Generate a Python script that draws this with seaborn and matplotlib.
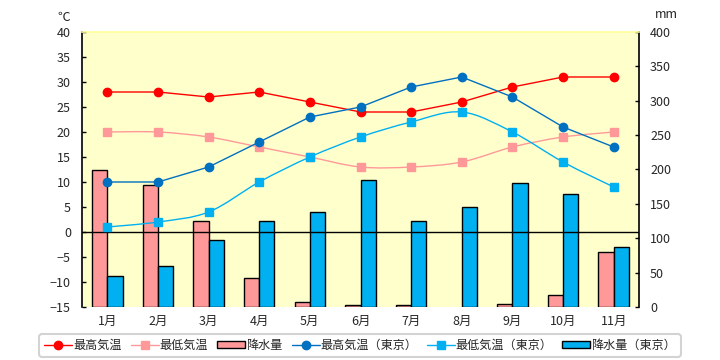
import matplotlib
matplotlib.use("Agg")
import matplotlib.pyplot as plt
import seaborn as sns
import numpy as np
import pandas as pd
from matplotlib.path import Path
from matplotlib.patches import PathPatch, Patch
from matplotlib.lines import Line2D

sns.set_style("white")
plt.rcParams['font.family'] = ['Noto Sans CJK JP', 'DejaVu Sans']

# データ
months = ['1月', '2月', '3月', '4月', '5月', '6月', '7月', '8月', '9月', '10月', '11月']
max_temp = [28, 28, 27, 28, 26, 24, 24, 26, 29, 31, 31]
min_temp = [20, 20, 19, 17, 15, 13, 13, 14, 17, 19, 20]
rain = [199, 178, 125, 42, 8, 2.5, 2.5, 0, 4, 18, 80]
max_temp_tokyo = [10, 10, 13, 18, 23, 25, 29, 31, 27, 21, 17]
min_temp_tokyo = [1, 2, 4, 10, 15, 19, 22, 24, 20, 14, 9]
rain_tokyo = [45, 59, 98, 125, 138, 185, 125, 146, 180, 164, 88]

RED = '#FF0000'
PINK = '#FF9999'
DBLUE = '#0070C0'
LBLUE = '#00B0F0'


def smooth_path(x, y):
    # Catmull-Rom -> Bezier (Excelの平滑線っぽく)
    pts = np.column_stack([np.asarray(x, float), np.asarray(y, float)])
    p = np.vstack([pts[0], pts, pts[-1]])
    verts = [pts[0]]
    codes = [Path.MOVETO]
    for i in range(1, len(p) - 2):
        c1 = p[i] + (p[i + 1] - p[i - 1]) / 6
        c2 = p[i + 1] - (p[i + 2] - p[i]) / 6
        verts += [c1, c2, p[i + 1]]
        codes += [Path.CURVE4] * 3
    return Path(verts, codes)


fig = plt.figure(figsize=(7.2, 3.6), dpi=100)
ax = fig.add_axes([82 / 720, 53 / 360, 557 / 720, 275 / 360])
ax2 = ax.twinx()

# 降水量 (右軸)
df = pd.DataFrame({
    'month': months * 2,
    'mm': rain + rain_tokyo,
    'kind': ['降水量'] * len(months) + ['降水量（東京）'] * len(months),
})
sns.barplot(data=df, x='month', y='mm', hue='kind', ax=ax2,
            palette=[PINK, LBLUE], width=0.6, edgecolor='black',
            linewidth=1, legend=False, saturation=1)
for p in ax2.patches:
    if p.get_height() == 0:
        p.set_linewidth(0)
ax2.set_ylim(0, 400)
ax2.set_yticks(range(0, 401, 50))
ax2.set_ylabel('')
ax2.set_xlabel('')

ax.set_zorder(ax2.get_zorder() + 1)
ax.patch.set_visible(False)
ax2.patch.set_facecolor('#FFFFCC')
ax2.patch.set_visible(True)

xs = np.arange(len(months))
ax.axhline(0, color='black', lw=1, zorder=1)

# 気温 (左軸)
ax.plot(xs, max_temp, color=RED, lw=1, marker='o', ms=6, zorder=3)
ax.add_patch(PathPatch(smooth_path(xs, min_temp), fill=False, edgecolor=PINK, lw=1, zorder=2))
ax.plot(xs, min_temp, ls='none', color=PINK, marker='s', ms=5.5, zorder=3)
ax.plot(xs, max_temp_tokyo, color=DBLUE, lw=1, marker='o', ms=6, zorder=3)
ax.add_patch(PathPatch(smooth_path(xs, min_temp_tokyo), fill=False, edgecolor=LBLUE, lw=1, zorder=2))
ax.plot(xs, min_temp_tokyo, ls='none', color=LBLUE, marker='s', ms=5.5, zorder=3)

ax.set_xlim(-0.5, len(months) - 0.5)
ax.set_ylim(-15, 40)
ax.set_yticks(range(-15, 41, 5))
ax.set_xticks(xs)
ax.set_xticklabels(months)

for a in (ax, ax2):
    for s in a.spines.values():
        s.set_visible(False)
for side in ('left', 'right'):
    ax.spines[side].set_visible(True)
    ax.spines[side].set_color('black')
    ax.spines[side].set_linewidth(1.2)
ax.spines['top'].set_visible(True)
ax.spines['top'].set_color('#FFFF99')
ax.spines['top'].set_linewidth(1.2)

ax.tick_params(axis='y', direction='in', length=3, width=1, labelsize=9, pad=8, color='black')
ax.tick_params(axis='x', length=0, labelsize=9, pad=6)
ax2.tick_params(axis='y', direction='in', length=3, width=1, labelsize=9, pad=8, color='black')
ax2.tick_params(axis='x', length=0, labelbottom=False)

fig.text(57 / 720, 1 - 17 / 360, '℃', fontsize=9, ha='left', va='center')
fig.text(655 / 720, 1 - 15 / 360, 'mm', fontsize=9, ha='left', va='center')

handles = [
    Line2D([], [], color=RED, lw=1, marker='o', ms=6),
    Line2D([], [], color=PINK, lw=1, marker='s', ms=6),
    Patch(facecolor=PINK, edgecolor='black', lw=1),
    Line2D([], [], color=DBLUE, lw=1, marker='o', ms=6),
    Line2D([], [], color=LBLUE, lw=1, marker='s', ms=6),
    Patch(facecolor=LBLUE, edgecolor='black', lw=1),
]
labels = ['最高気温', '最低気温', '降水量', '最高気温（東京）', '最低気温（東京）', '降水量（東京）']
leg = fig.legend(handles, labels, loc='center', bbox_to_anchor=(360 / 720, 1 - 345.5 / 360),
                 ncol=6, fontsize=8.7, frameon=True, fancybox=True,
                 handlelength=2.3, handleheight=0.55, handletextpad=0.1, columnspacing=0.75,
                 borderpad=0.4)
leg.get_frame().set_edgecolor('#C8C8C8')
leg.get_frame().set_linewidth(1.5)

fig.savefig('out.png', dpi=100, facecolor='white')
